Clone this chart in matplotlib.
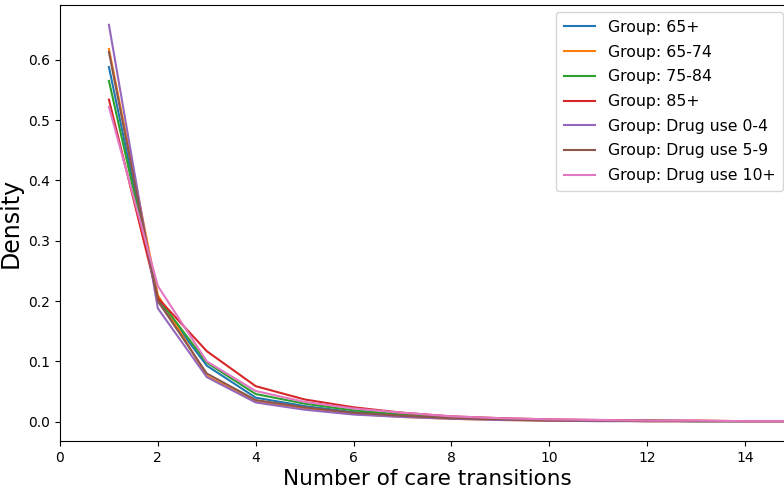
import numpy as np
import matplotlib.pyplot as plt

transitions = list(range(1, 16))

groups = ['65+', '65-74', '75-84', '85+', 'Drug use 0-4', 'Drug use 5-9', 'Drug use 10+']

density = {
    '65+':          [0.588, 0.200, 0.093, 0.040, 0.026, 0.016, 0.011, 0.007, 0.004, 0.003, 0.002, 0.002, 0.001, 0.001, 0.001],
    '65-74':        [0.618, 0.210, 0.076, 0.033, 0.022, 0.013, 0.008, 0.005, 0.003, 0.002, 0.002, 0.001, 0.001, 0.001, 0.001],
    '75-84':        [0.565, 0.205, 0.098, 0.046, 0.030, 0.019, 0.012, 0.008, 0.005, 0.003, 0.002, 0.002, 0.001, 0.001, 0.001],
    '85+':          [0.534, 0.205, 0.117, 0.059, 0.037, 0.024, 0.015, 0.009, 0.006, 0.004, 0.003, 0.002, 0.002, 0.001, 0.001],
    'Drug use 0-4': [0.658, 0.188, 0.074, 0.032, 0.020, 0.012, 0.008, 0.005, 0.003, 0.002, 0.001, 0.001, 0.001, 0.001, 0.001],
    'Drug use 5-9': [0.613, 0.200, 0.080, 0.036, 0.024, 0.015, 0.010, 0.006, 0.004, 0.002, 0.002, 0.001, 0.001, 0.001, 0.001],
    'Drug use 10+': [0.522, 0.225, 0.100, 0.051, 0.033, 0.022, 0.015, 0.009, 0.006, 0.004, 0.003, 0.002, 0.002, 0.001, 0.001],
}

fig = plt.figure(figsize=(7.84, 4.91), dpi=100)
# axes run slightly past the right edge of the figure
ax = fig.add_axes([60 / 784, 50 / 491, 734 / 784, 436 / 491])

for g in groups:
    ax.plot(transitions, density[g], label=f'Group: {g}', linewidth=1.5)

ax.set_xlim(0, 15)
ax.set_xticks(np.arange(0, 16, 2))
ax.set_xlabel('Number of care transitions', fontsize=15.5, labelpad=3)
ax.set_ylabel('Density', fontsize=17)

ax.legend(fontsize=11.3, loc='upper right', labelspacing=0.62,
          borderaxespad=0, borderpad=0.5,
          bbox_to_anchor=(783 / 784, 1 - 12 / 491),
          bbox_transform=fig.transFigure)

fig.savefig('out.png', dpi=100)
